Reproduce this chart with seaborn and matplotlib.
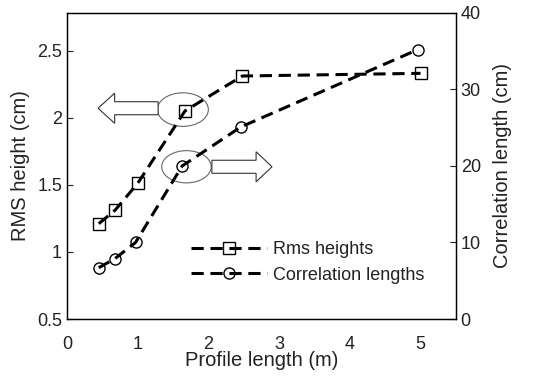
import numpy as np
import pandas as pd
import matplotlib
matplotlib.use("Agg")
import matplotlib.pyplot as plt
import seaborn as sns
from matplotlib.patches import Ellipse, FancyArrow

# --- Data ---
rms_x = [0.45, 0.68, 1.0, 1.67, 2.48, 5.0]
rms_y = [1.21, 1.31, 1.51, 2.05, 2.31, 2.33]
corr_x = [0.45, 0.68, 0.97, 1.63, 2.46, 4.96]
corr_y = [6.7, 7.9, 10.0, 20.0, 25.1, 35.2]

x_ticks = [0, 1, 2, 3, 4, 5]
left_ticks = [0.5, 1, 1.5, 2, 2.5]
left_tick_labels = ["0.5", "1", "1.5", "2", "2.5"]
right_ticks = [0, 10, 20, 30, 40]

sns.set_style("white")
plt.rcParams["font.family"] = ["Liberation Sans", "DejaVu Sans"]
plt.rcParams["xtick.direction"] = "in"
plt.rcParams["ytick.direction"] = "in"

fig = plt.figure(figsize=(5.44, 3.8), dpi=100)
ax = fig.add_axes([0.123, 0.1605, 0.715, 0.8055])
ax2 = ax.twinx()

dash = (0, (4, 2.2))
sns.lineplot(x=rms_x, y=rms_y, ax=ax, color="black", linewidth=2.2,
             linestyle=dash, marker="s", markersize=9,
             markerfacecolor="none", markeredgecolor="black",
             markeredgewidth=1.0, label="Rms heights", legend=False)
sns.lineplot(x=corr_x, y=corr_y, ax=ax2, color="black", linewidth=2.2,
             linestyle=dash, marker="o", markersize=8,
             markerfacecolor="none", markeredgecolor="black",
             markeredgewidth=1.0, label="Correlation lengths", legend=False)

ax.set_xlim(0, 5.5)
ax.set_ylim(0.5, 2.78)
ax2.set_ylim(0, 40)
ax.set_xticks(x_ticks)
ax.set_yticks(left_ticks)
ax.set_yticklabels(left_tick_labels)
ax2.set_yticks(right_ticks)

txt = "#222222"
for a in (ax, ax2):
    a.tick_params(labelsize=13, colors=txt, length=4, width=0.8)
    for s in a.spines.values():
        s.set_color("black")
        s.set_linewidth(0.9)
ax.tick_params(axis="x", pad=12)

ax.set_xlabel("Profile length (m)", fontsize=14.5, color=txt, labelpad=-1)
ax.set_ylabel("RMS height (cm)", fontsize=14.5, color=txt, labelpad=5)
ax2.set_ylabel("Correlation length (cm)", fontsize=14.5, color=txt, labelpad=9)

# ellipses and arrows pointing to each axis
ax.add_patch(Ellipse((1.64, 2.06), 0.72, 0.25, fill=False,
                     edgecolor="#666666", linewidth=0.8, zorder=1))
ax.add_patch(Ellipse((1.69, 1.634), 0.70, 0.24, fill=False,
                     edgecolor="#666666", linewidth=0.8, zorder=1))
ax.add_patch(FancyArrow(1.29, 2.07, -0.85, 0, width=0.097, head_width=0.224,
                        head_length=0.235, length_includes_head=True,
                        facecolor="white", edgecolor="#333333", linewidth=0.8))
ax.add_patch(FancyArrow(2.05, 1.634, 0.85, 0, width=0.097, head_width=0.224,
                        head_length=0.225, length_includes_head=True,
                        facecolor="white", edgecolor="#333333", linewidth=0.8))

# legend combining both axes
h1, l1 = ax.get_legend_handles_labels()
h2, l2 = ax2.get_legend_handles_labels()
leg = ax2.legend(h1 + h2, l1 + l2, loc="upper left",
                 bbox_to_anchor=(0.3, 0.277), frameon=False, fontsize=13,
                 handlelength=4.2, handletextpad=0.35, labelspacing=0.45,
                 borderaxespad=0)
for t in leg.get_texts():
    t.set_color(txt)

fig.savefig("out.png", dpi=100)
